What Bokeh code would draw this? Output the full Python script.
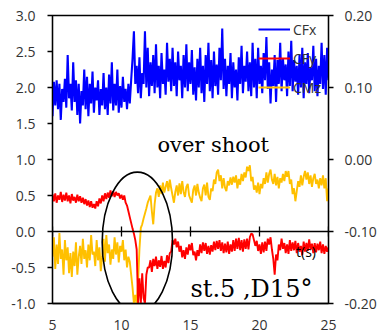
import numpy as np
from bokeh.plotting import figure
from bokeh.models import (Range1d, LinearAxis, FixedTicker, PrintfTickFormatter,
                          Label, Legend, LegendItem, CustomJSTickFormatter)
from bokeh.embed import file_html
from bokeh.resources import INLINE

# ---------------- data ----------------
t_start, t_step = 5.0, 0.1

cfx = [
    1.60, 2.08, 1.75, 2.10, 1.70, 2.05, 1.55, 1.98, 1.80, 2.12,
    1.72, 2.45, 1.85, 2.05, 1.68, 2.35, 1.80, 2.10, 1.62, 2.05,
    1.50, 1.95, 1.75, 2.25, 1.70, 2.15, 1.60, 2.05, 1.78, 2.22,
    1.65, 2.00, 1.82, 2.10, 1.62, 1.98, 1.75, 2.20, 1.70, 2.00,
    1.62, 2.18, 1.78, 2.35, 1.68, 2.05, 1.75, 2.25, 1.65, 2.02,
    1.72, 2.15, 1.80, 1.98, 1.70, 2.05, 1.78, 2.10, 2.40, 2.78,
    2.05, 2.30, 1.92, 2.42, 1.85, 2.20, 2.05, 2.78, 2.00, 2.55,
    1.88, 2.35, 2.02, 2.45, 1.92, 2.60, 2.00, 2.30, 1.85, 2.48,
    2.05, 2.25, 1.90, 2.62, 2.08, 2.40, 1.95, 2.55, 2.02, 2.35,
    1.88, 2.50, 2.10, 2.30, 1.85, 2.45, 2.00, 2.60, 1.95, 2.35,
    2.05, 2.52, 1.90, 2.28, 1.82, 2.40, 2.00, 2.55, 1.92, 2.30,
    1.80, 2.45, 2.05, 2.62, 1.95, 2.38, 1.85, 2.50, 2.02, 2.32,
    1.90, 2.55, 2.10, 2.82, 1.98, 2.40, 1.88, 2.30, 2.05, 2.48,
    1.85, 2.35, 2.00, 2.25, 1.82, 2.42, 2.05, 2.58, 1.92, 2.30,
    2.08, 2.50, 1.95, 2.35, 1.88, 2.62, 2.00, 2.40, 1.85, 2.55,
    2.05, 2.30, 1.92, 2.48, 2.10, 2.70, 1.98, 2.35, 1.78, 2.25,
    2.02, 2.45, 1.80, 2.38, 2.05, 2.62, 1.95, 2.40, 2.10, 2.32,
    1.88, 2.50, 2.02, 2.65, 1.95, 2.38, 2.08, 2.30, 1.90, 2.45,
    2.00, 2.55, 1.85, 2.35, 2.05, 2.48, 1.92, 2.28, 2.10, 2.58,
    1.95, 2.40, 1.88, 2.30, 2.05, 2.62, 1.98, 2.45, 1.90, 2.55,
    2.10,
]

cfy = [
    -0.048, -0.058, -0.047, -0.060, -0.050, -0.056, -0.045, -0.059, -0.049, -0.057,
    -0.046, -0.058, -0.050, -0.061, -0.048, -0.057, -0.052, -0.060, -0.049, -0.058,
    -0.051, -0.060, -0.053, -0.062, -0.055, -0.064, -0.057, -0.066, -0.058, -0.067,
    -0.062, -0.068, -0.058, -0.065, -0.054, -0.061, -0.050, -0.058, -0.047, -0.055,
    -0.046, -0.053, -0.043, -0.051, -0.044, -0.052, -0.045, -0.050, -0.047, -0.054,
    -0.049, -0.056, -0.050, -0.060, -0.064, -0.072, -0.080, -0.088, -0.096, -0.103,
    -0.112, -0.125, -0.200, -0.165, -0.200, -0.158, -0.192, -0.200, -0.160, -0.150,
    -0.150, -0.140, -0.156, -0.138, -0.148, -0.135, -0.152, -0.140, -0.149, -0.134,
    -0.152, -0.141, -0.150, -0.133, -0.144, -0.130, -0.128, -0.112, -0.118, -0.110,
    -0.122, -0.114, -0.128, -0.120, -0.136, -0.126, -0.138, -0.122, -0.132, -0.118,
    -0.126, -0.116, -0.133, -0.128, -0.140, -0.126, -0.134, -0.118, -0.130, -0.115,
    -0.127, -0.116, -0.131, -0.120, -0.132, -0.119, -0.128, -0.114, -0.126, -0.113,
    -0.124, -0.112, -0.127, -0.115, -0.130, -0.117, -0.129, -0.114, -0.131, -0.118,
    -0.128, -0.112, -0.127, -0.110, -0.124, -0.109, -0.126, -0.112, -0.128, -0.111,
    -0.124, -0.110, -0.125, -0.108, -0.103, -0.104, -0.112, -0.120, -0.113, -0.127,
    -0.118, -0.131, -0.115, -0.129, -0.114, -0.127, -0.110, -0.118, -0.108, -0.125,
    -0.138, -0.160, -0.132, -0.140, -0.118, -0.126, -0.110, -0.124, -0.116, -0.130,
    -0.118, -0.131, -0.112, -0.127, -0.115, -0.126, -0.113, -0.130, -0.116, -0.128,
    -0.120, -0.133, -0.114, -0.128, -0.116, -0.127, -0.111, -0.125, -0.117, -0.130,
    -0.116, -0.129, -0.117, -0.126, -0.114, -0.130, -0.118, -0.131, -0.120, -0.128,
    -0.122,
]

cmz = [
    -0.135, -0.108, -0.152, -0.118, -0.145, -0.102, -0.138, -0.125, -0.160, -0.112,
    -0.140, -0.122, -0.158, -0.130, -0.163, -0.128, -0.148, -0.115, -0.160, -0.135,
    -0.120, -0.145, -0.110, -0.138, -0.126, -0.150, -0.118, -0.140, -0.105, -0.132,
    -0.128, -0.148, -0.112, -0.140, -0.122, -0.155, -0.135, -0.110, -0.142, -0.105,
    -0.130, -0.118, -0.146, -0.125, -0.138, -0.108, -0.132, -0.115, -0.143, -0.120,
    -0.128, -0.112, -0.140, -0.125, -0.150, -0.135, -0.142, -0.160, -0.178, -0.200,
    -0.188, -0.200, -0.170, -0.125, -0.095, -0.090, -0.082, -0.075, -0.068, -0.060,
    -0.055, -0.050, -0.072, -0.090, -0.062, -0.046, -0.040, -0.052, -0.036, -0.048,
    -0.032, -0.046, -0.038, -0.030, -0.044, -0.028, -0.040, -0.050, -0.060, -0.045,
    -0.036, -0.050, -0.033, -0.048, -0.030, -0.045, -0.052, -0.038, -0.034, -0.050,
    -0.055, -0.060, -0.042, -0.036, -0.050, -0.034, -0.046, -0.053, -0.058, -0.040,
    -0.035, -0.050, -0.032, -0.052, -0.056, -0.040, -0.044, -0.028, -0.034, -0.018,
    -0.014, -0.030, -0.022, -0.040, -0.026, -0.039, -0.044, -0.030, -0.036, -0.025,
    -0.035, -0.024, -0.032, -0.022, -0.040, -0.027, -0.035, -0.020, -0.030, -0.018,
    -0.025, -0.010, -0.016, -0.008, -0.030, -0.024, -0.042, -0.036, -0.046, -0.032,
    -0.048, -0.034, -0.040, -0.026, -0.034, -0.018, -0.032, -0.020, -0.014, -0.028,
    -0.034, -0.020, -0.036, -0.024, -0.040, -0.026, -0.032, -0.020, -0.030, -0.016,
    -0.024, -0.016, -0.034, -0.028, -0.048, -0.040, -0.058, -0.044, -0.030, -0.038,
    -0.022, -0.036, -0.024, -0.016, -0.028, -0.018, -0.034, -0.022, -0.038, -0.026,
    -0.020, -0.034, -0.028, -0.040, -0.026, -0.036, -0.022, -0.040, -0.026, -0.058,
    -0.040,
]

x_ticks = [5, 10, 15, 20, 25]
left_ticks = [-1.0, -0.5, 0.0, 0.5, 1.0, 1.5, 2.0, 2.5, 3.0]
right_ticks = [-0.20, -0.10, 0.00, 0.10, 0.20]
series_names = ["CFx", "CFy", "CMz"]
series_colors = ["#0000FF", "#FF0000", "#FFC000"]

# annotation (ellipse around overshoot region)
ell_x, ell_y, ell_w, ell_h = 11.15, -0.15, 5.1, 1.95

t = t_start + t_step * np.arange(len(cfx))
assert len(cfx) == len(cfy) == len(cmz) == 201

# ---------------- figure ----------------
p = figure(width=379, height=336, x_range=Range1d(5, 25), y_range=Range1d(-1, 3),
           output_backend="svg", toolbar_location=None,
           min_border_left=52, min_border_right=51, min_border_top=15, min_border_bottom=33,
           x_axis_location=None, y_axis_location=None)
p.extra_y_ranges = {"r": Range1d(-0.2, 0.2)}
p.xgrid.visible = False
p.ygrid.visible = False
p.outline_line_color = "black"
p.outline_line_width = 1.3
p.background_fill_color = "white"
p.border_fill_color = "white"

font = "Open Sans"
lab_col = "#333333"

# left axis
ax_l = LinearAxis(ticker=FixedTicker(ticks=left_ticks),
                  formatter=PrintfTickFormatter(format="%.1f"))
ax_l.major_tick_in = 0
ax_l.major_tick_out = 5
ax_l.minor_tick_out = 0
ax_l.minor_tick_in = 0
ax_l.axis_line_width = 1.3
ax_l.major_tick_line_width = 1.3
ax_l.major_label_standoff = 12
ax_l.major_label_text_font = font
ax_l.major_label_text_font_size = "14px"
ax_l.major_label_text_color = lab_col
p.add_layout(ax_l, "left")

# right axis
ax_r = LinearAxis(y_range_name="r", ticker=FixedTicker(ticks=right_ticks),
                  formatter=PrintfTickFormatter(format="%.2f"))
ax_r.major_tick_in = 0
ax_r.major_tick_out = 5
ax_r.minor_tick_out = 0
ax_r.minor_tick_in = 0
ax_r.axis_line_width = 1.3
ax_r.major_tick_line_width = 1.3
ax_r.major_label_standoff = 11
ax_r.major_label_text_font = font
ax_r.major_label_text_font_size = "14px"
ax_r.major_label_text_color = lab_col
p.add_layout(ax_r, "right")

# bottom axis (labels only)
ax_b = LinearAxis(ticker=FixedTicker(ticks=x_ticks))
ax_b.major_tick_in = 0
ax_b.major_tick_out = 0
ax_b.minor_tick_out = 0
ax_b.minor_tick_in = 0
ax_b.axis_line_width = 1.3
ax_b.major_label_standoff = 16
ax_b.major_label_text_font = font
ax_b.major_label_text_font_size = "14px"
ax_b.major_label_text_color = lab_col
p.add_layout(ax_b, "below")

# x axis line crossing at y=0
ax_0 = LinearAxis(ticker=FixedTicker(ticks=x_ticks), fixed_location=0,
                  formatter=CustomJSTickFormatter(code="return ''"))
ax_0.major_tick_in = 5
ax_0.major_tick_out = 5
ax_0.minor_tick_out = 0
ax_0.minor_tick_in = 0
ax_0.axis_line_width = 1.3
ax_0.major_tick_line_width = 1.3
ax_0.major_label_text_font_size = "1px"
p.add_layout(ax_0, "above")

# series
r_cfx = p.line(t, cfx, line_color=series_colors[0], line_width=2.1)
r_cmz = p.line(t, cmz, line_color=series_colors[2], line_width=1.9, y_range_name="r")
r_cfy = p.line(t, cfy, line_color=series_colors[1], line_width=1.9, y_range_name="r")

# ellipse annotation
p.ellipse(x=[ell_x], y=[ell_y], width=ell_w, height=ell_h, fill_alpha=0,
          line_color="black", line_width=1.6)

legend = Legend(items=[LegendItem(label=series_names[0], renderers=[r_cfx]),
                       LegendItem(label=series_names[1], renderers=[r_cfy]),
                       LegendItem(label=series_names[2], renderers=[r_cmz])],
                location=(206, 206))
legend.background_fill_alpha = 0
legend.border_line_alpha = 0
legend.padding = 0
legend.margin = 0
legend.spacing = 9
legend.glyph_width = 32
legend.glyph_height = 20
legend.label_height = 20
legend.label_standoff = 3
legend.label_text_font = font
legend.label_text_font_size = "14px"
legend.label_text_color = lab_col
p.add_layout(legend, "center")

p.add_layout(Label(x=12.6, y=1.195, text="over shoot", text_font="DejaVu Serif",
                   text_font_size="21px", text_color="black", text_baseline="alphabetic"))
p.add_layout(Label(x=15.0, y=-0.80, text="st.5 ,D15°", text_font="DejaVu Serif",
                   text_font_size="24px", text_color="black", text_baseline="alphabetic"))
p.add_layout(Label(x=22.65, y=-0.28, text="t(s)", text_font=font,
                   text_font_size="14px", text_color="black", text_baseline="alphabetic"))

open("out.html", "w").write(file_html(p, INLINE))
